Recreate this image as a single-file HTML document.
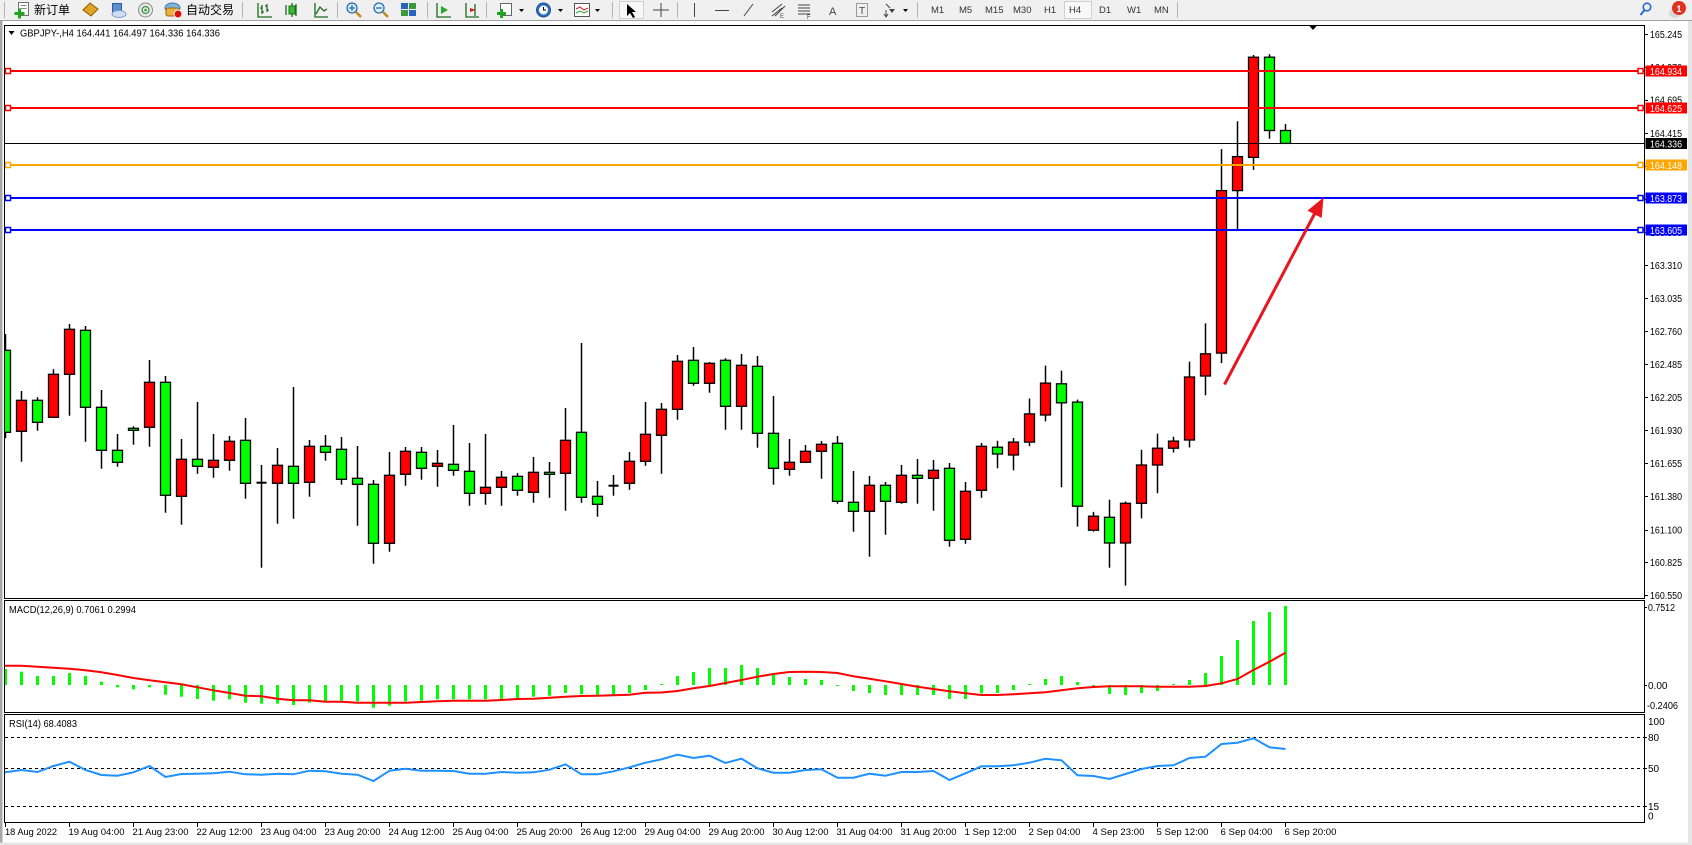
<!DOCTYPE html>
<html><head><meta charset="utf-8"><title>GBPJPY H4</title>
<style>
html,body{margin:0;padding:0;background:#fff;}
svg{display:block;}
text{font-family:"Liberation Sans","Noto Sans CJK SC",sans-serif;}
</style></head>
<body>
<svg width="1692" height="845" viewBox="0 0 1692 845" xmlns="http://www.w3.org/2000/svg">
<defs>
<clipPath id="cm"><rect x="5" y="26" width="1639" height="572"/></clipPath>
<clipPath id="cd"><rect x="5" y="601" width="1639" height="111"/></clipPath>
<clipPath id="cr"><rect x="5" y="715" width="1639" height="107"/></clipPath>
</defs>
<!-- window background -->
<rect x="0" y="0" width="1692" height="845" fill="#ffffff"/>
<rect x="0" y="21" width="2.5" height="824" fill="#a8a8a8"/>
<rect x="1688" y="21" width="4" height="824" fill="#e6e6e6"/>
<rect x="0" y="842.5" width="1692" height="2.5" fill="#e6e6e6"/>

<!-- toolbar -->
<rect x="0" y="0" width="1692" height="20" fill="#f0f0f0"/>
<line x1="0" y1="20.5" x2="1692" y2="20.5" stroke="#a0a0a0"/>
<g stroke="#b4b4b4" stroke-width="1">
<line x1="4.5" y1="2" x2="4.5" y2="18"/>
<line x1="242.5" y1="2" x2="242.5" y2="18"/>
<line x1="337.5" y1="2" x2="337.5" y2="18"/>
<line x1="427.5" y1="2" x2="427.5" y2="18"/>
<line x1="486.5" y1="2" x2="486.5" y2="18"/>
<line x1="612.5" y1="2" x2="612.5" y2="18"/>
<line x1="677.5" y1="2" x2="677.5" y2="18"/>
<line x1="917.5" y1="2" x2="917.5" y2="18"/>
<line x1="1177.5" y1="2" x2="1177.5" y2="18"/>
</g>
<!-- new order icon -->
<rect x="18.5" y="2.5" width="10" height="13" fill="#fff" stroke="#707070"/>
<line x1="20.5" y1="5.5" x2="26.5" y2="5.5" stroke="#888"/>
<line x1="20.5" y1="8.5" x2="26.5" y2="8.5" stroke="#888"/>
<rect x="14.5" y="12" width="10" height="3" fill="#1fa51f"/>
<rect x="18" y="8.5" width="3" height="10" fill="#1fa51f"/>
<text x="34" y="14" font-size="12" fill="#000">新订单</text>
<!-- market watch (gold) -->
<polygon points="83,10 90,3 98,9 91,16" fill="#e0a526" stroke="#8a5a00"/>
<!-- server -->
<rect x="112.5" y="3.5" width="9" height="10" fill="#5b8fd0" stroke="#2d5a9a"/>
<ellipse cx="119" cy="14" rx="7" ry="3.5" fill="#cfe0f4" stroke="#7a9cc8"/>
<!-- signal -->
<circle cx="145.5" cy="10" r="7" fill="#e8e8e8" stroke="#8a8a8a"/>
<circle cx="145.5" cy="10" r="3.5" fill="none" stroke="#3a9a3a" stroke-width="1.3"/>
<circle cx="145.5" cy="10" r="1.3" fill="#3a9a3a"/>
<!-- auto trading -->
<ellipse cx="172.5" cy="8" rx="7.5" ry="5" fill="#7fb6e0" stroke="#4a7aa8"/>
<rect x="166" y="8" width="13" height="8" rx="2" fill="#e8b23a" stroke="#9a6a10"/>
<circle cx="178" cy="14" r="4" fill="#e01010" stroke="#fff" stroke-width="1"/>
<text x="186" y="14" font-size="12" fill="#000">自动交易</text>
<!-- chart type icons -->
<g stroke="#1e6b1e" stroke-width="1.3" fill="none">
<path d="M258 3V17H272M262 5V14M260 8H262M262 12H264M267 4V12M265 6H267M267 10H269"/>
<path d="M292 3V17M286 5V15M296 4V16"/>
<path d="M315 3V17H328M316 14L320 7L324 11L327 9"/>
<path d="M437 3V17H451"/>
<path d="M466 3V17H479M475 4V16"/>
</g>
<rect x="289" y="6" width="6" height="8" fill="#2fbf2f" stroke="#1e6b1e"/>
<polygon points="441,6 448,10 441,14" fill="#25a825"/>
<polygon points="470,8 476,10 470,12" fill="#d02020"/>
<!-- zoom in/out -->
<g fill="#dff0ff" stroke="#2a6ab0" stroke-width="1.3">
<circle cx="352" cy="8" r="5"/>
<circle cx="379" cy="8" r="5"/>
</g>
<g stroke="#c08a20" stroke-width="2.5"><line x1="356" y1="12" x2="361" y2="17"/><line x1="383" y1="12" x2="388" y2="17"/></g>
<g stroke="#2a6ab0" stroke-width="1.3"><line x1="349" y1="8" x2="355" y2="8"/><line x1="352" y1="5" x2="352" y2="11"/><line x1="376" y1="8" x2="382" y2="8"/></g>
<!-- tile -->
<rect x="401" y="3" width="7" height="6" fill="#2b64c0"/><rect x="409" y="3" width="7" height="6" fill="#3a9a3a"/>
<rect x="401" y="10" width="7" height="6" fill="#3a9a3a"/><rect x="409" y="10" width="7" height="6" fill="#2b64c0"/>
<!-- new chart -->
<rect x="500.5" y="3.5" width="11" height="12" fill="#fff" stroke="#666"/>
<rect x="497" y="12" width="9" height="3" fill="#1fa51f"/><rect x="500" y="9" width="3" height="9" fill="#1fa51f"/>
<polygon points="519,9 524,9 521.5,12" fill="#000"/>
<circle cx="543.5" cy="10" r="7" fill="#2f6fc4" stroke="#1a4a8a"/>
<circle cx="543.5" cy="10" r="4.5" fill="#fff"/>
<path d="M543.5 7V10H546" stroke="#000" fill="none"/>
<polygon points="558,9 563,9 560.5,12" fill="#000"/>
<rect x="574.5" y="3.5" width="15" height="13" fill="#fff" stroke="#555"/>
<path d="M576 9L580 7L584 10L588 8" stroke="#d02020" fill="none"/>
<path d="M576 13L580 11L584 13L588 11" stroke="#2fa02f" fill="none"/>
<polygon points="595,9 600,9 597.5,12" fill="#000"/>
<!-- cursor tools -->
<rect x="619.5" y="1.5" width="24" height="17" fill="#f8f8f8" stroke="#d0d0d0"/>
<polygon points="627,4 627,16 630,13 633,18 635,17 632,12 636,12" fill="#000"/>
<g stroke="#444" stroke-width="1"><line x1="661" y1="3" x2="661" y2="17"/><line x1="653" y1="10" x2="669" y2="10"/>
<line x1="694.5" y1="3" x2="694.5" y2="17"/><line x1="715" y1="10.5" x2="729" y2="10.5"/><line x1="744" y1="16" x2="753" y2="4"/>
<path d="M772 12L782 4M772 16L782 8M775 16L785 6"/>
<path d="M798 5H810M798 8H810M798 11H810M798 14H810"/>
<rect x="856.5" y="3.5" width="11" height="13" fill="none" stroke-dasharray="1,1"/>
</g>
<text x="780" y="18" font-size="6" fill="#444">E</text>
<text x="807" y="19" font-size="6" fill="#444">F</text>
<text x="829" y="15" font-size="11" fill="#444">A</text>
<text x="859" y="14" font-size="10" fill="#444">T</text>
<path d="M886 4L890 8M886 16V10M884 14L886 17L888 14" stroke="#444" fill="none"/>
<polygon points="889,9 895,9 892,13" fill="#444"/>
<polygon points="903,9 908,9 905.5,12" fill="#000"/>
<!-- periods -->
<rect x="1064.5" y="1.5" width="27" height="17" fill="#f8f8f8" stroke="#d0d0d0"/>
<g font-size="9.5" fill="#333">
<text x="931" y="13">M1</text><text x="959" y="13">M5</text><text x="985" y="13">M15</text>
<text x="1013" y="13">M30</text><text x="1044" y="13">H1</text><text x="1069" y="13">H4</text>
<text x="1099" y="13">D1</text><text x="1127" y="13">W1</text><text x="1154" y="13">MN</text>
</g>
<!-- search + notification -->
<circle cx="1647" cy="7" r="3.8" fill="none" stroke="#2a6ad0" stroke-width="1.6"/>
<line x1="1644.5" y1="10" x2="1640.5" y2="15" stroke="#2a6ad0" stroke-width="2"/>
<ellipse cx="1675" cy="13" rx="6" ry="5" fill="#d8d8d8"/>
<circle cx="1679" cy="8" r="7" fill="#e03020"/>
<text x="1676.5" y="12" font-size="9" fill="#fff" font-weight="bold">1</text>

<!-- ===== MAIN CHART ===== -->
<g clip-path="url(#cm)">
<path fill="none" stroke="#000" stroke-width="1.5" d="M5.5 334V438.3M21.5 391V461.7M37.5 397.3V430.7M53.5 369.3V417.3M69.5 324V415.7M85.5 326V441.7M101.5 390V468.7M117.5 434V466.7M133.5 426.3V444.7M149.5 360V446.7M165.5 376V512.7M181.5 439V524.7M197.5 402V473.7M213.5 434V477.7M229.5 436V470.7M245.5 418V498.7M261.5 465V567.7M277.5 448V523.7M293.5 387V518.7M309.5 440V496.7M325.5 435V460.7M341.5 437V484.7M357.5 446V525.7M373.5 480V563.7M389.5 452V551.7M405.5 447V485.7M421.5 447V479.7M437.5 450V486.7M453.5 425V475.7M469.5 443V505.7M485.5 434V504.7M501.5 471V505.7M517.5 473V495.7M533.5 457V502.7M549.5 462V497.7M565.5 408V510.7M581.5 343V502.7M597.5 481V516.7M613.5 475V495.7M629.5 452V489.7M645.5 402V465.7M661.5 403V473.7M677.5 355V419.7M693.5 347V385.7M709.5 362V392.7M725.5 358.3V429.7M741.5 354V429.7M757.5 356V447.7M773.5 396V484.7M789.5 439V475.7M805.5 445V462.3M821.5 441V478.7M837.5 436V503.7M853.5 471V531.7M869.5 476V556.7M885.5 482V534.7M901.5 465V503.7M917.5 459V503.7M933.5 460V510.7M949.5 463V546.7M965.5 482V543.7M981.5 443V497.7M997.5 440.7V468.3M1013.5 437.9V470.4M1029.5 398.5V446.1M1045.5 365.6V421.4M1061.5 370.6V487.2M1077.5 399.6V526.6M1093.5 511.9V531.6M1109.5 499.8V567.7M1125.5 501.5V585.6M1141.5 449.7V518.4M1157.5 433.6V493.3M1173.5 436.8V452.5M1189.5 361.6V447.5M1205.5 323.4V395.3M1221.5 149.1V363.1M1237.5 121.2V229.3M1253.5 55V169.9M1269.5 54.3V138.7M1285.5 124.1V143.4"/>
<g stroke="#000" stroke-width="1.3" fill="#00ff00">
<rect x="0.5" y="350.3" width="10" height="82"/>
<rect x="32.5" y="400.3" width="10" height="22"/>
<rect x="80.5" y="330.3" width="10" height="77"/>
<rect x="96.5" y="407.3" width="10" height="43"/>
<rect x="112.5" y="450.3" width="10" height="12"/>
<rect x="128.5" y="428.3" width="10" height="2"/>
<rect x="160.5" y="382.3" width="10" height="113"/>
<rect x="192.5" y="459.3" width="10" height="7"/>
<rect x="240.5" y="440.3" width="10" height="43"/>
<rect x="288.5" y="466.3" width="10" height="17"/>
<rect x="320.5" y="446.3" width="10" height="6"/>
<rect x="336.5" y="449.3" width="10" height="30"/>
<rect x="352.5" y="478.3" width="10" height="6"/>
<rect x="368.5" y="484.3" width="10" height="59"/>
<rect x="416.5" y="452.3" width="10" height="16"/>
<rect x="448.5" y="464.3" width="10" height="6"/>
<rect x="464.5" y="471.3" width="10" height="22"/>
<rect x="512.5" y="476.3" width="10" height="14"/>
<rect x="544.5" y="472.3" width="10" height="2"/>
<rect x="576.5" y="432.3" width="10" height="65"/>
<rect x="592.5" y="496.3" width="10" height="8"/>
<rect x="688.5" y="360.3" width="10" height="23"/>
<rect x="720.5" y="360.3" width="10" height="46"/>
<rect x="752.5" y="366.3" width="10" height="67"/>
<rect x="768.5" y="433.3" width="10" height="35"/>
<rect x="832.5" y="443.3" width="10" height="58"/>
<rect x="848.5" y="502.3" width="10" height="9"/>
<rect x="880.5" y="485.3" width="10" height="16"/>
<rect x="912.5" y="475.3" width="10" height="3"/>
<rect x="944.5" y="468.3" width="10" height="72"/>
<rect x="992.5" y="447.2" width="10" height="6.8"/>
<rect x="1056.5" y="383.8" width="10" height="19"/>
<rect x="1072.5" y="402.1" width="10" height="104.1"/>
<rect x="1104.5" y="517.3" width="10" height="25.7"/>
<rect x="1264.5" y="57.2" width="10" height="73.3"/>
<rect x="1280.5" y="130.5" width="10" height="12.9"/>
</g>
<g stroke="#000" stroke-width="1.3" fill="#ff0000">
<rect x="16.5" y="400.3" width="10" height="31"/>
<rect x="48.5" y="374.3" width="10" height="43"/>
<rect x="64.5" y="329.3" width="10" height="45"/>
<rect x="144.5" y="382.3" width="10" height="45"/>
<rect x="176.5" y="459.3" width="10" height="37"/>
<rect x="208.5" y="460.3" width="10" height="7"/>
<rect x="224.5" y="441.3" width="10" height="19"/>
<rect x="272.5" y="465.3" width="10" height="18"/>
<rect x="304.5" y="446.3" width="10" height="36"/>
<rect x="384.5" y="475.3" width="10" height="68"/>
<rect x="400.5" y="451.3" width="10" height="23"/>
<rect x="432.5" y="463.3" width="10" height="3"/>
<rect x="480.5" y="487.3" width="10" height="6"/>
<rect x="496.5" y="477.3" width="10" height="10"/>
<rect x="528.5" y="472.3" width="10" height="20"/>
<rect x="560.5" y="440.3" width="10" height="33"/>
<rect x="624.5" y="461.3" width="10" height="22"/>
<rect x="640.5" y="434.3" width="10" height="27"/>
<rect x="656.5" y="409.3" width="10" height="26"/>
<rect x="672.5" y="361.3" width="10" height="48"/>
<rect x="704.5" y="363.3" width="10" height="20"/>
<rect x="736.5" y="365.3" width="10" height="41"/>
<rect x="784.5" y="462.3" width="10" height="7"/>
<rect x="800.5" y="451.3" width="10" height="11"/>
<rect x="816.5" y="444.3" width="10" height="7"/>
<rect x="864.5" y="485.3" width="10" height="26"/>
<rect x="896.5" y="475.3" width="10" height="27"/>
<rect x="928.5" y="470.3" width="10" height="8"/>
<rect x="960.5" y="491.3" width="10" height="48"/>
<rect x="976.5" y="446.3" width="10" height="44"/>
<rect x="1008.5" y="442.1" width="10" height="12.9"/>
<rect x="1024.5" y="413.9" width="10" height="28.2"/>
<rect x="1040.5" y="383.1" width="10" height="31.9"/>
<rect x="1088.5" y="516.2" width="10" height="14"/>
<rect x="1120.5" y="503.3" width="10" height="39.7"/>
<rect x="1136.5" y="465" width="10" height="38.3"/>
<rect x="1152.5" y="448.2" width="10" height="16.8"/>
<rect x="1168.5" y="441.1" width="10" height="7.1"/>
<rect x="1184.5" y="377" width="10" height="63"/>
<rect x="1200.5" y="353.8" width="10" height="22.2"/>
<rect x="1216.5" y="190.6" width="10" height="162.5"/>
<rect x="1232.5" y="156.6" width="10" height="34"/>
<rect x="1248.5" y="57.2" width="10" height="100.2"/>
</g>
<g stroke="#000" stroke-width="2">
<line x1="256.5" y1="482.7" x2="266.5" y2="482.7"/>
<line x1="608.5" y1="485.7" x2="618.5" y2="485.7"/>
</g>
<!-- level lines -->
<line x1="4" y1="71" x2="1644" y2="71" stroke="#ff0000" stroke-width="2"/>
<line x1="4" y1="108" x2="1644" y2="108" stroke="#ff0000" stroke-width="2"/>
<line x1="4" y1="143.5" x2="1644" y2="143.5" stroke="#000" stroke-width="1"/>
<line x1="4" y1="165" x2="1644" y2="165" stroke="#ffa500" stroke-width="2"/>
<line x1="4" y1="198" x2="1644" y2="198" stroke="#0000ff" stroke-width="2"/>
<line x1="4" y1="230" x2="1644" y2="230" stroke="#0000ff" stroke-width="2"/>
<g fill="#fff" stroke-width="1.5">
<rect x="5.5" y="68.5" width="5" height="5" stroke="#ff0000"/><rect x="1638" y="68.5" width="5" height="5" stroke="#ff0000"/>
<rect x="5.5" y="105.5" width="5" height="5" stroke="#ff0000"/><rect x="1638" y="105.5" width="5" height="5" stroke="#ff0000"/>
<rect x="5.5" y="162.5" width="5" height="5" stroke="#ffa500"/><rect x="1638" y="162.5" width="5" height="5" stroke="#ffa500"/>
<rect x="5.5" y="195.5" width="5" height="5" stroke="#0000ff"/><rect x="1638" y="195.5" width="5" height="5" stroke="#0000ff"/>
<rect x="5.5" y="227.5" width="5" height="5" stroke="#0000ff"/><rect x="1638" y="227.5" width="5" height="5" stroke="#0000ff"/>
</g>
<!-- arrow -->
<line x1="1224.5" y1="384.5" x2="1315" y2="213" stroke="#e8161f" stroke-width="3"/>
<polygon points="1323.5,197.5 1307.5,210.6 1321.7,218" fill="#e8161f"/>
</g>
<!-- title -->
<polygon points="8.5,31 14.5,31 11.5,35" fill="#000"/>
<text x="20" y="36.5" font-size="10.5" fill="#000" textLength="200" lengthAdjust="spacingAndGlyphs">GBPJPY-,H4  164.441 164.497 164.336 164.336</text>
<polygon points="1309,25.5 1317,25.5 1313,30" fill="#000"/>

<!-- ===== MACD ===== -->
<g clip-path="url(#cd)">
<g fill="#00ff00">
<rect x="4" y="669" width="3" height="16"/><rect x="20" y="671.7" width="3" height="13.3"/><rect x="36" y="676" width="3" height="9"/><rect x="52" y="676" width="3" height="9"/><rect x="68" y="673" width="3" height="12"/><rect x="84" y="676" width="3" height="9"/><rect x="100" y="681.7" width="3" height="3.3"/><rect x="116" y="685" width="3" height="2.3"/><rect x="132" y="685" width="3" height="4.3"/><rect x="148" y="685" width="3" height="2.3"/><rect x="164" y="685" width="3" height="9.7"/><rect x="180" y="685" width="3" height="11.7"/><rect x="196" y="685" width="3" height="14"/><rect x="212" y="685" width="3" height="15.7"/><rect x="228" y="685" width="3" height="14.3"/><rect x="244" y="685" width="3" height="17.7"/><rect x="260" y="685" width="3" height="18.7"/><rect x="276" y="685" width="3" height="18.7"/><rect x="292" y="685" width="3" height="20"/><rect x="308" y="685" width="3" height="17.7"/><rect x="324" y="685" width="3" height="17"/><rect x="340" y="685" width="3" height="15.7"/><rect x="356" y="685" width="3" height="16.3"/><rect x="372" y="685" width="3" height="22.7"/><rect x="388" y="685" width="3" height="20.7"/><rect x="404" y="685" width="3" height="16.3"/><rect x="420" y="685" width="3" height="15.7"/><rect x="436" y="685" width="3" height="14.3"/><rect x="452" y="685" width="3" height="14.3"/><rect x="468" y="685" width="3" height="14.3"/><rect x="484" y="685" width="3" height="14.3"/><rect x="500" y="685" width="3" height="14.3"/><rect x="516" y="685" width="3" height="13.7"/><rect x="532" y="685" width="3" height="11.7"/><rect x="548" y="685" width="3" height="10.7"/><rect x="564" y="685" width="3" height="8"/><rect x="580" y="685" width="3" height="9.3"/><rect x="596" y="685" width="3" height="10"/><rect x="612" y="685" width="3" height="10"/><rect x="628" y="685" width="3" height="8"/><rect x="644" y="685" width="3" height="5"/><rect x="660" y="684" width="3" height="1"/><rect x="676" y="676" width="3" height="9"/><rect x="692" y="672" width="3" height="13"/><rect x="708" y="668" width="3" height="17"/><rect x="724" y="668" width="3" height="17"/><rect x="740" y="665" width="3" height="20"/><rect x="756" y="668" width="3" height="17"/><rect x="772" y="674" width="3" height="11"/><rect x="788" y="677" width="3" height="8"/><rect x="804" y="679" width="3" height="6"/><rect x="820" y="680" width="3" height="5"/><rect x="836" y="685" width="3" height="1"/><rect x="852" y="685" width="3" height="6"/><rect x="868" y="685" width="3" height="8"/><rect x="884" y="685" width="3" height="10"/><rect x="900" y="685" width="3" height="10"/><rect x="916" y="685" width="3" height="10"/><rect x="932" y="685" width="3" height="10"/><rect x="948" y="685" width="3" height="14"/><rect x="964" y="685" width="3" height="14"/><rect x="980" y="685" width="3" height="8.3"/><rect x="996" y="685" width="3" height="8"/><rect x="1012" y="685" width="3" height="5"/><rect x="1028" y="684" width="3" height="1"/><rect x="1044" y="679" width="3" height="6"/><rect x="1060" y="676" width="3" height="9"/><rect x="1076" y="682" width="3" height="3"/><rect x="1092" y="685" width="3" height="2"/><rect x="1108" y="685" width="3" height="9"/><rect x="1124" y="685" width="3" height="10"/><rect x="1140" y="685" width="3" height="8"/><rect x="1156" y="685" width="3" height="6"/><rect x="1172" y="684" width="3" height="1"/><rect x="1188" y="680" width="3" height="5"/><rect x="1204" y="673" width="3" height="12"/><rect x="1220" y="656" width="3" height="29"/><rect x="1236" y="640" width="3" height="45"/><rect x="1252" y="621" width="3" height="64"/><rect x="1268" y="612" width="3" height="73"/><rect x="1284" y="606" width="3" height="79"/>
</g>
<polyline fill="none" stroke="#ff0000" stroke-width="2" points="4,665.7 5.5,665.7 21.5,665.7 37.5,666.7 53.5,667.7 69.5,668.7 85.5,670.3 101.5,672.3 117.5,675 133.5,678 149.5,680.3 165.5,682.3 181.5,684.3 197.5,687.3 213.5,690.3 229.5,693 245.5,695.7 261.5,696.3 277.5,698.7 293.5,700.3 309.5,700.3 325.5,701.7 341.5,701.7 357.5,702.7 373.5,702.7 389.5,702.7 405.5,702.7 421.5,702 437.5,701.3 453.5,700.7 469.5,700.7 485.5,700.7 501.5,700 517.5,699 533.5,698.7 549.5,697.7 565.5,696.7 581.5,696 597.5,695.7 613.5,695.3 629.5,694.7 645.5,692.7 661.5,692.5 677.5,691 693.5,688.3 709.5,686 725.5,683 741.5,680 757.5,676.7 773.5,674 789.5,672 805.5,671.7 821.5,672 837.5,673 853.5,676.3 869.5,678.7 885.5,681.3 901.5,684 917.5,686.7 933.5,689 949.5,691.3 965.5,693.3 981.5,695 997.5,695 1013.5,694.3 1029.5,693.3 1045.5,692.3 1061.5,690.3 1077.5,688.3 1093.5,687 1109.5,686.3 1125.5,686.3 1141.5,686.3 1157.5,686.7 1173.5,686.7 1189.5,686.7 1205.5,686 1221.5,683.3 1237.5,679 1253.5,670 1269.5,661.7 1285.5,652.7"/>
</g>
<text x="9" y="613" font-size="10" fill="#000" textLength="127" lengthAdjust="spacingAndGlyphs">MACD(12,26,9) 0.7061 0.2994</text>

<!-- ===== RSI ===== -->
<g stroke="#000" stroke-width="1" stroke-dasharray="3,3">
<line x1="5" y1="737.5" x2="1644" y2="737.5"/>
<line x1="5" y1="768.5" x2="1644" y2="768.5"/>
<line x1="5" y1="806.5" x2="1644" y2="806.5"/>
</g>
<g clip-path="url(#cr)">
<polyline fill="none" stroke="#1e90ff" stroke-width="2" points="4,772.3 5.5,772.3 21.5,770 37.5,772 53.5,766 69.5,761.7 85.5,770 101.5,775 117.5,775.7 133.5,772.3 149.5,766 165.5,777 181.5,774 197.5,773.7 213.5,773.3 229.5,771.7 245.5,774.3 261.5,774.7 277.5,773.7 293.5,774.3 309.5,770.7 325.5,771.3 341.5,773.7 357.5,774.7 373.5,781 389.5,770.7 405.5,768.7 421.5,770.7 437.5,770.7 453.5,771 469.5,773.7 485.5,773.7 501.5,772 517.5,772.7 533.5,772.3 549.5,769.7 565.5,764.3 581.5,774.3 597.5,774.3 613.5,771.3 629.5,767.3 645.5,762.7 661.5,759.3 677.5,754.7 693.5,758 709.5,755.7 725.5,763 741.5,758.7 757.5,768.3 773.5,772.7 789.5,772.7 805.5,770 821.5,769.3 837.5,777.7 853.5,777.7 869.5,773.7 885.5,775.7 901.5,772 917.5,772 933.5,771 949.5,780 965.5,773.3 981.5,766.3 997.5,766.3 1013.5,765.3 1029.5,762.7 1045.5,758.7 1061.5,760.3 1077.5,775.3 1093.5,776 1109.5,779 1125.5,774 1141.5,769 1157.5,766 1173.5,765.3 1189.5,758 1205.5,756.7 1221.5,744 1237.5,742.7 1253.5,738.3 1269.5,747.3 1285.5,749"/>
</g>
<text x="9" y="727" font-size="10" fill="#000" textLength="68" lengthAdjust="spacingAndGlyphs">RSI(14) 68.4083</text>

<!-- frames -->
<g fill="none" stroke="#000" stroke-width="1">
<rect x="4.5" y="25.5" width="1640" height="573"/>
<rect x="4.5" y="600.5" width="1640" height="112"/>
<rect x="4.5" y="714.5" width="1640" height="108"/>
</g>

<!-- price axis ticks -->
<g stroke="#000" stroke-width="1">
<path d="M1644 34.5H1648M1644 67.5H1648M1644 100.5H1648M1644 133.5H1648M1644 166.5H1648M1644 199.5H1648M1644 232.5H1648M1644 265.5H1648M1644 298.5H1648M1644 331.5H1648M1644 364.5H1648M1644 397.5H1648M1644 430.5H1648M1644 463.5H1648M1644 496.5H1648M1644 530.5H1648M1644 562.5H1648M1644 595.5H1648"/>
<path d="M1644 607.5H1647M1644 685.5H1647M1644 737.5H1647M1644 768.5H1647M1644 806.5H1647"/>
<path d="M5.5 822V827M69.5 822V827M133.5 822V827M197.5 822V827M261.5 822V827M325.5 822V827M389.5 822V827M453.5 822V827M517.5 822V827M581.5 822V827M645.5 822V827M709.5 822V827M773.5 822V827M837.5 822V827M901.5 822V827M965.5 822V827M1029.5 822V827M1093.5 822V827M1157.5 822V827M1221.5 822V827M1285.5 822V827"/>
</g>
<g font-size="10" fill="#000">
<text x="1650" y="38" textLength="32" lengthAdjust="spacingAndGlyphs">165.245</text>
<text x="1650" y="71" textLength="32" lengthAdjust="spacingAndGlyphs">164.970</text>
<text x="1650" y="103.5" textLength="32" lengthAdjust="spacingAndGlyphs">164.695</text>
<text x="1650" y="137" textLength="32" lengthAdjust="spacingAndGlyphs">164.415</text>
<text x="1650" y="170" textLength="32" lengthAdjust="spacingAndGlyphs">164.140</text>
<text x="1650" y="203" textLength="32" lengthAdjust="spacingAndGlyphs">163.865</text>
<text x="1650" y="236" textLength="32" lengthAdjust="spacingAndGlyphs">163.590</text>
<text x="1650" y="269" textLength="32" lengthAdjust="spacingAndGlyphs">163.310</text>
<text x="1650" y="302" textLength="32" lengthAdjust="spacingAndGlyphs">163.035</text>
<text x="1650" y="335" textLength="32" lengthAdjust="spacingAndGlyphs">162.760</text>
<text x="1650" y="368" textLength="32" lengthAdjust="spacingAndGlyphs">162.485</text>
<text x="1650" y="401" textLength="32" lengthAdjust="spacingAndGlyphs">162.205</text>
<text x="1650" y="434" textLength="32" lengthAdjust="spacingAndGlyphs">161.930</text>
<text x="1650" y="467" textLength="32" lengthAdjust="spacingAndGlyphs">161.655</text>
<text x="1650" y="500" textLength="32" lengthAdjust="spacingAndGlyphs">161.380</text>
<text x="1650" y="533.5" textLength="32" lengthAdjust="spacingAndGlyphs">161.100</text>
<text x="1650" y="566" textLength="32" lengthAdjust="spacingAndGlyphs">160.825</text>
<text x="1650" y="599" textLength="32" lengthAdjust="spacingAndGlyphs">160.550</text>
<text x="1648" y="611" textLength="27" lengthAdjust="spacingAndGlyphs">0.7512</text>
<text x="1648" y="689">0.00</text>
<text x="1647" y="709" textLength="31" lengthAdjust="spacingAndGlyphs">-0.2406</text>
<text x="1648" y="725">100</text>
<text x="1648" y="741">80</text>
<text x="1648" y="772">50</text>
<text x="1648" y="810">15</text>
<text x="1648" y="819.5">0</text>
</g>
<!-- level labels -->
<rect x="1645.5" y="65.5" width="41.5" height="11" fill="#ff0000"/>
<rect x="1645.5" y="102.5" width="41.5" height="11" fill="#ff0000"/>
<rect x="1645.5" y="138" width="41.5" height="11" fill="#000000"/>
<rect x="1645.5" y="159.5" width="41.5" height="11" fill="#ffa500"/>
<rect x="1645.5" y="192.5" width="41.5" height="11" fill="#0000ff"/>
<rect x="1645.5" y="224.5" width="41.5" height="11" fill="#0000ff"/>
<g font-size="10" fill="#fff">
<text x="1650" y="75" textLength="32" lengthAdjust="spacingAndGlyphs">164.934</text>
<text x="1650" y="112" textLength="32" lengthAdjust="spacingAndGlyphs">164.625</text>
<text x="1650" y="147.5" textLength="32" lengthAdjust="spacingAndGlyphs">164.336</text>
<text x="1650" y="169" textLength="32" lengthAdjust="spacingAndGlyphs">164.148</text>
<text x="1650" y="202" textLength="32" lengthAdjust="spacingAndGlyphs">163.873</text>
<text x="1650" y="234" textLength="32" lengthAdjust="spacingAndGlyphs">163.605</text>
</g>

<!-- time axis -->
<g font-size="9.6" fill="#000">
<text x="5" y="835" textLength="52" lengthAdjust="spacingAndGlyphs">18 Aug 2022</text>
<text x="68.5" y="835" textLength="56" lengthAdjust="spacingAndGlyphs">19 Aug 04:00</text>
<text x="132.5" y="835" textLength="56" lengthAdjust="spacingAndGlyphs">21 Aug 23:00</text>
<text x="196.5" y="835" textLength="56" lengthAdjust="spacingAndGlyphs">22 Aug 12:00</text>
<text x="260.5" y="835" textLength="56" lengthAdjust="spacingAndGlyphs">23 Aug 04:00</text>
<text x="324.5" y="835" textLength="56" lengthAdjust="spacingAndGlyphs">23 Aug 20:00</text>
<text x="388.5" y="835" textLength="56" lengthAdjust="spacingAndGlyphs">24 Aug 12:00</text>
<text x="452.5" y="835" textLength="56" lengthAdjust="spacingAndGlyphs">25 Aug 04:00</text>
<text x="516.5" y="835" textLength="56" lengthAdjust="spacingAndGlyphs">25 Aug 20:00</text>
<text x="580.5" y="835" textLength="56" lengthAdjust="spacingAndGlyphs">26 Aug 12:00</text>
<text x="644.5" y="835" textLength="56" lengthAdjust="spacingAndGlyphs">29 Aug 04:00</text>
<text x="708.5" y="835" textLength="56" lengthAdjust="spacingAndGlyphs">29 Aug 20:00</text>
<text x="772.5" y="835" textLength="56" lengthAdjust="spacingAndGlyphs">30 Aug 12:00</text>
<text x="836.5" y="835" textLength="56" lengthAdjust="spacingAndGlyphs">31 Aug 04:00</text>
<text x="900.5" y="835" textLength="56" lengthAdjust="spacingAndGlyphs">31 Aug 20:00</text>
<text x="964.5" y="835" textLength="52" lengthAdjust="spacingAndGlyphs">1 Sep 12:00</text>
<text x="1028.5" y="835" textLength="52" lengthAdjust="spacingAndGlyphs">2 Sep 04:00</text>
<text x="1092.5" y="835" textLength="52" lengthAdjust="spacingAndGlyphs">4 Sep 23:00</text>
<text x="1156.5" y="835" textLength="52" lengthAdjust="spacingAndGlyphs">5 Sep 12:00</text>
<text x="1220.5" y="835" textLength="52" lengthAdjust="spacingAndGlyphs">6 Sep 04:00</text>
<text x="1284.5" y="835" textLength="52" lengthAdjust="spacingAndGlyphs">6 Sep 20:00</text>
</g>
</svg>
</body></html>
